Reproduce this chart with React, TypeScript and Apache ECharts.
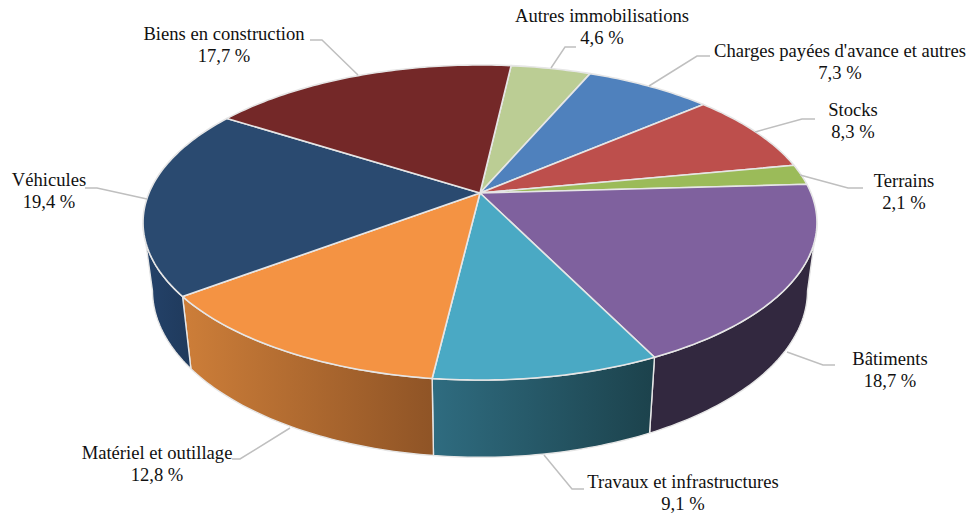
import React, { useEffect, useRef } from "react";
import * as echarts from "echarts";

const categories = [
  "Autres immobilisations",
  "Charges payées d'avance et autres",
  "Stocks",
  "Terrains",
  "Bâtiments",
  "Travaux et infrastructures",
  "Matériel et outillage",
  "Véhicules",
  "Biens en construction",
];
const values = [4.6, 7.3, 8.3, 2.1, 18.7, 9.1, 12.8, 19.4, 17.7];
const topColors = ["#bbcd94", "#4f81bd", "#bd4f4c", "#9bbb59", "#7f619e", "#4aa9c4", "#f49343", "#2a4a70", "#742828"];
const sideLeft = ["", "", "", "", "#32283f", "#2f6c80", "#cd7e39", "#24426a", ""];
const sideRight = ["", "", "", "", "#32283f", "#1c424c", "#8f5426", "#1f3a5c", ""];

// Label centres and leader lines, in the same order as the categories
const labelCenters = [[602, 15], [840, 50], [853, 109], [904, 180], [890, 358], [683, 481.5], [157, 452], [49, 179], [224, 33]];
const leaders = [
  [[576, 47], [565, 47], [551, 68]],
  [[710, 56], [697, 56], [649, 86]],
  [[815, 119], [802, 119], [755, 132]],
  [[863, 188], [848, 188], [800, 175]],
  [[835, 365], [823, 365], [787, 352]],
  [[584, 489], [572, 489], [544, 455]],
  [[232, 459], [240, 459], [290, 428]],
  [[85, 188], [97, 188], [147, 199]],
  [[310, 40], [322, 40], [358, 75]],
];

// Perspective view of the disc
const CX = 480;
const CY = 193;
const A = 331;
const B = 152;
const K = 0.1873;
const START = 6.4; // degrees clockwise from 12 o'clock
const BOTTOM_SCALE_X = 0.972;
const BOTTOM_SCALE_Y = 1.06;
const BOTTOM_CY = 259;
const VIS_FROM = 101;
const VIS_TO = 259;

const rim = (deg: number): [number, number] => {
  const r = (deg * Math.PI) / 180;
  const u = Math.sin(r);
  const v = -Math.cos(r);
  const d = 1 - K * v;
  return [(A * u) / d, (B * v) / d];
};
const topPt = (deg: number): number[] => {
  const [x, y] = rim(deg);
  return [CX + x, CY + y];
};
const bottomPt = (deg: number): number[] => {
  const [x, y] = rim(deg);
  return [CX + BOTTOM_SCALE_X * x, BOTTOM_CY + BOTTOM_SCALE_Y * y];
};
const sweep = (from: number, to: number, fn: (d: number) => number[]) => {
  const pts: number[][] = [];
  const n = Math.max(2, Math.ceil(to - from));
  for (let i = 0; i <= n; i++) pts.push(fn(from + ((to - from) * i) / n));
  return pts;
};
const total = values.reduce((a, b) => a + b, 0);
const sliceAngles = (i: number) => {
  let before = 0;
  for (let j = 0; j < i; j++) before += values[j];
  const a0 = START + (before / total) * 360;
  return [a0, a0 + (values[i] / total) * 360];
};

const edge = "#e6e6e6";

const renderTop = (params: any) => {
  const [a0, a1] = sliceAngles(params.dataIndex);
  return {
    type: "polygon",
    shape: { points: [[CX, CY], ...sweep(a0, a1, topPt)] },
    style: { fill: topColors[params.dataIndex], stroke: edge, lineWidth: 1.6, lineJoin: "round" },
  };
};

const renderSide = (params: any) => {
  const i = params.dataIndex;
  const [a0, a1] = sliceAngles(i);
  const from = Math.max(a0, VIS_FROM);
  const to = Math.min(a1, VIS_TO);
  if (to <= from) return { type: "group", children: [] };
  return {
    type: "polygon",
    shape: { points: [...sweep(from, to, topPt), ...sweep(from, to, bottomPt).reverse()] },
    style: {
      fill: new echarts.graphic.LinearGradient(0, 0, 1, 0, [
        { offset: 0, color: sideLeft[i] },
        { offset: 1, color: sideRight[i] },
      ]),
      stroke: edge,
      lineWidth: 1.4,
      lineJoin: "round",
    },
  };
};

const fmt = (v: number) => `${v.toFixed(1).replace(".", ",")} %`;

export default function App() {
  const ref = useRef<HTMLDivElement>(null);
  useEffect(() => {
    const chart = echarts.init(ref.current!, undefined, { renderer: "svg" });
    const font = { fontFamily: "Liberation Serif", fontSize: 18.6, fill: "#111111" };
    const graphics: any[] = [];
    categories.forEach((c, i) => {
      graphics.push({
        type: "polyline",
        z: 5,
        shape: { points: leaders[i] },
        style: { stroke: "#bfbfbf", lineWidth: 1.5, fill: "none" },
      });
      const [x, y] = labelCenters[i];
      graphics.push({ type: "text", z: 6, x, y, style: { ...font, text: c, align: "center", verticalAlign: "middle" } });
      graphics.push({ type: "text", z: 6, x, y: y + 22, style: { ...font, text: fmt(values[i]), align: "center", verticalAlign: "middle" } });
    });
    chart.setOption({
      animation: false,
      backgroundColor: "#ffffff",
      graphic: graphics,
      series: [
        { type: "custom", coordinateSystem: "none", z: 1, silent: true, renderItem: renderSide, data: values.map((v) => [v]) },
        { type: "custom", coordinateSystem: "none", z: 2, silent: true, renderItem: renderTop, data: values.map((v) => [v]) },
      ],
    });
    return () => chart.dispose();
  }, []);
  return <div ref={ref} style={{ position: "absolute", left: 0, top: 0, width: 971, height: 513 }} />;
}
